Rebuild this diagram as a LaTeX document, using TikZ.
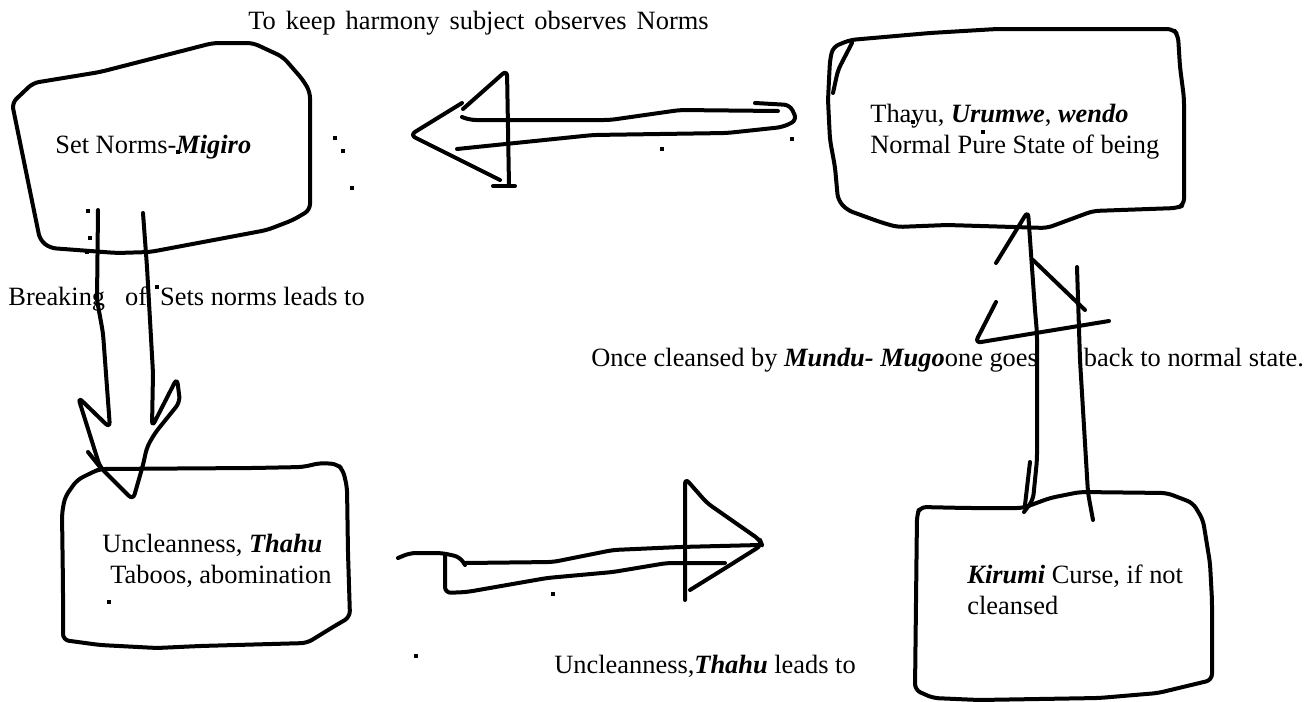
\documentclass[tikz,border=0pt]{standalone}
\usepackage{fontspec}
\setmainfont{Liberation Serif}
\tikzset{
    scrawl/.style={line width=2pt, line join=round, line cap=round, rounded corners=3pt},
    note/.style={inner sep=0pt, anchor=base west, font=\fontsize{13.2}{15.2}\selectfont},
    notes/.style={note, anchor=north west, align=left}
}
\newcommand{\bi}[1]{\textbf{\textit{#1}}}

\begin{document}
\begin{tikzpicture}[x=0.5pt, y=-0.5pt]
    \useasboundingbox (0,0) rectangle (1308,702);
    \draw[scrawl] (12,103) -- (33,83) -- (100,72) -- (213,43) -- (253,43) -- (283,57) -- (303,80) -- (310,92) -- (310,210) -- (293,220) -- (267,230) -- (150,252) -- (117,253) -- (50,248) -- (40,240) -- cycle;
    \draw[scrawl] (833,47) -- (850,40) -- (930,33) -- (997,29) -- (1173,29) -- (1178,35) -- (1180,67) -- (1184,98) -- (1184,205) -- (1177,208) -- (1093,211) -- (1047,228) -- (947,225) -- (897,227) -- (880,222) -- (847,210) -- (838,200) -- (835,167) -- (830,140) -- (828,100) -- (830,60) -- cycle;
    \draw[scrawl] (852,43) -- (838,70) -- (833,93);
    \draw[scrawl] (100,469) -- (253,468) -- (303,467) -- (320,463) -- (337,464) -- (343,470) -- (347,487) -- (348,553) -- (350,617) -- (333,627) -- (307,643) -- (200,646) -- (157,648) -- (100,645) -- (63,640) -- (63,587) -- (62,513) -- (65,497) -- (77,480) -- (93,472) -- cycle;
    \draw[scrawl] (920,507) -- (917,515) -- (915,690) -- (933,698) -- (979,700) -- (1099,698) -- (1158,693) -- (1212,680) -- (1212,600) -- (1210,563) -- (1203,520) -- (1193,503) -- (1167,493) -- (1080,492) -- (1050,498) -- (1023,508) -- (967,508) -- cycle;

    \draw[scrawl] (462,103) -- (410,135) -- (500,180);
    \draw[scrawl] (463,109) -- (507,70) -- (509,186);
    \draw[scrawl] (493,186) -- (515,186);
    \draw[scrawl] (462,117) -- (470,120) -- (610,120) -- (680,110) -- (778,111);
    \draw[scrawl] (755,103) -- (790,105) -- (797,120) -- (783,127) -- (727,133) -- (593,135) -- (457,149);

    \draw[scrawl] (398,558) -- (410,553) -- (442,553) -- (460,557) -- (465,565);
    \draw[scrawl] (445,555) -- (445,593) -- (467,592) -- (547,578) -- (613,572) -- (667,563) -- (725,563);
    \draw[scrawl] (465,563) -- (553,562) -- (613,550) -- (680,547) -- (760,545);
    \draw[scrawl] (685,600) -- (685,478) -- (707,503) -- (760,540) -- (762,545) -- (727,567) -- (690,590);

    \draw[scrawl] (98,210) -- (97,300) -- (103,333) -- (110,428) -- (78,397) -- (100,467) -- (133,500) -- (143,465) -- (147,447) -- (155,433) -- (180,402) -- (177,378) -- (152,427) -- (153,373) -- (147,267) -- (143,213);
    \draw[scrawl] (88,452) -- (100,467);

    \draw[scrawl] (1024,512) -- (1033,500) -- (1037,460) -- (1037,333) -- (1035,310) -- (1028,211) -- (996,263);
    \draw[scrawl] (1030,462) -- (1025,505);
    \draw[scrawl] (996,302) -- (975,343) -- (1109,321);
    \draw[scrawl] (1033,260) -- (1085,310);
    \draw[scrawl] (1077,267) -- (1080,360) -- (1088,493) -- (1093,520);

    \foreach \x/\y in {335/138, 343/151, 352/188, 178/152, 88/211, 90/238, 87/252, 157/287, 662/149, 792/139, 913/122, 983/132, 109/602, 416/656, 553/594}
        \fill (\x,\y) +(-2,-2) rectangle +(2,2);

    \node[note] (harmony) at (248,29) {\spaceskip=5pt To keep harmony subject observes Norms};
    \node[note] (norms) at (55,153) {Set Norms-\bi{Migiro}};
    \node[notes] (thayu) at (870,104) {Thayu, \bi{Urumwe}, \bi{wendo}\\Normal Pure State of being};
    \node[note] (breaking) at (8,305) {Breaking\hspace{10pt}of\hspace{6.5pt}Sets norms leads to};
    \node[note] (cleansed) at (591,366) {Once cleansed by \bi{Mundu- Mugo}one goes\hspace{23pt}back to normal state.};
    \node[notes] (thahu) at (102,534) {Uncleanness, \bi{Thahu}\\\hspace*{4pt}Taboos, abomination};
    \node[notes] (kirumi) at (967,565) {\bi{Kirumi} Curse, if not\\cleansed};
    \node[note] (leads) at (554,673) {Uncleanness,\bi{Thahu} leads to};
\end{tikzpicture}
\end{document}
